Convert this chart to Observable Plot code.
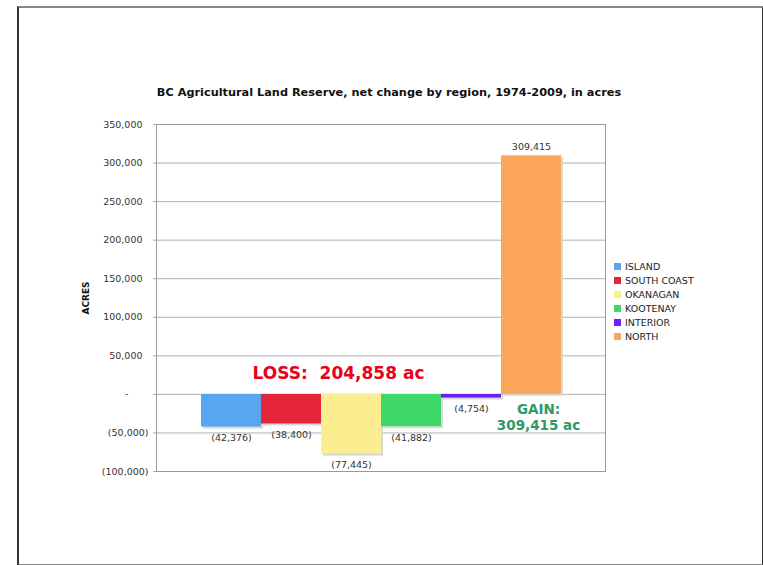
<!DOCTYPE html>
<html>
<head>
<meta charset="utf-8">
<script src="https://cdn.jsdelivr.net/npm/d3@7"></script>
<script src="https://cdn.jsdelivr.net/npm/@observablehq/plot@0.6"></script>
<style>
  html, body { margin: 0; padding: 0; background: #fff; }
  #wrap { position: relative; width: 763px; height: 565px; overflow: hidden; font-family: "DejaVu Sans", Verdana, sans-serif; }
  #border { position: absolute; left: 17px; top: 6px; width: 743px; height: 556px;
            border-left: 2px solid #333; border-right: 2px solid #333; border-top: 2px solid #888; border-bottom: 2px solid #888; box-sizing: content-box; }
  #title { position: absolute; left: 0; width: 778px; top: 86px; text-align: center; font-weight: bold; font-size: 11.3px; color: #111; }
  #legend { position: absolute; left: 614px; top: 260px; font-size: 9.5px; color: #222; }
  #legend .row { height: 14px; line-height: 14px; white-space: nowrap; }
  #legend .sw { display: inline-block; width: 7px; height: 7px; margin-right: 4px; vertical-align: 0px; }
  svg { position: absolute; left: 0; top: 0; }
</style>
</head>
<body>
<div id="wrap">
  <div id="border"></div>
  <div id="title"></div>
  <div id="legend"></div>
</div>
<script>
const titleText = "BC Agricultural Land Reserve, net change by region, 1974-2009, in acres";
const yLabel = "ACRES";
const regions = ["ISLAND", "SOUTH COAST", "OKANAGAN", "KOOTENAY", "INTERIOR", "NORTH"];
const values = [-42376, -38400, -77445, -41882, -4754, 309415];
const colors = ["#58a6f0", "#e4253a", "#faee90", "#3ed86a", "#6b1ff2", "#fca65a"];
const yTicks = [-100000, -50000, 0, 50000, 100000, 150000, 200000, 250000, 300000, 350000];
const lossText = ["LOSS:  204,858 ac"];
const gainText = ["GAIN:", "309,415 ac"];

const data = regions.map((r, i) => ({region: r, value: values[i]}));
const fmtNum = d3.format(",");
const acct = v => v === 0 ? "-" : v < 0 ? "(" + fmtNum(-v) + ")" : fmtNum(v);

document.getElementById("title").textContent = titleText;
const legend = document.getElementById("legend");
regions.forEach((r, i) => {
  const row = document.createElement("div");
  row.className = "row";
  const sw = document.createElement("span");
  sw.className = "sw";
  sw.style.background = colors[i];
  row.appendChild(sw);
  row.appendChild(document.createTextNode(r));
  legend.appendChild(row);
});

const font = "DejaVu Sans, Verdana, sans-serif";
const chart = Plot.plot({
  width: 763,
  height: 565,
  marginLeft: 156,
  marginRight: 158,
  marginTop: 124,
  marginBottom: 94,
  style: {fontFamily: font, fontSize: "9.5px", color: "#333", background: "transparent"},
  x: {domain: regions, paddingInner: 0, paddingOuter: 0.74, axis: null},
  y: {domain: [-100000, 350000]},
  color: {domain: regions, range: colors},
  marks: [
    Plot.gridY(yTicks, {stroke: "#b0b0b0", strokeOpacity: 1}),
    Plot.barY(data, {x: "region", y: "value", fill: "#d8d8d8", dx: 2, dy: 2, inset: 0}),
    Plot.barY(data, {x: "region", y: "value", fill: "region", inset: 0}),
    Plot.frame({stroke: "#9a9a9a"}),
    Plot.axisY(yTicks.filter(d => d > 0), {tickSize: 3, tickPadding: 11, tickFormat: acct, stroke: "#aaa", fill: "#333", label: null, fontSize: 9.5}),
    Plot.axisY(yTicks.filter(d => d < 0), {tickSize: 3, tickPadding: 5, tickFormat: acct, stroke: "#aaa", fill: "#333", label: null, fontSize: 9.5}),
    Plot.axisY([0], {tickSize: 3, tickPadding: 25, tickFormat: acct, stroke: "#aaa", fill: "#333", label: null, fontSize: 9.5}),
    Plot.text([yLabel], {frameAnchor: "left", textAnchor: "middle", dx: -70, rotate: -90, fontWeight: "bold", fontSize: 9, fill: "#111"}),
    Plot.text(data.filter(d => d.value < 0), {x: "region", y: "value", text: d => acct(d.value), dy: 11, fill: "#333", fontSize: 9.5}),
    Plot.text(data.filter(d => d.value > 0), {x: "region", y: "value", text: d => acct(d.value), dy: -9, fill: "#333", fontSize: 9.5}),
    Plot.text(lossText, {x: () => "OKANAGAN", y: () => 27000, text: d => d, dx: -13, fill: "#e8001c", fontWeight: "bold", fontSize: 17}),
    Plot.text([gainText[0]], {x: () => "NORTH", y: () => -20000, text: d => d, dx: 7, fill: "#2b9a68", fontWeight: "bold", fontSize: 13.5}),
    Plot.text([gainText[1]], {x: () => "NORTH", y: () => -40000, text: d => d, dx: 7, fill: "#2b9a68", fontWeight: "bold", fontSize: 13.5})
  ]
});
document.getElementById("wrap").appendChild(chart);
</script>
</body>
</html>
